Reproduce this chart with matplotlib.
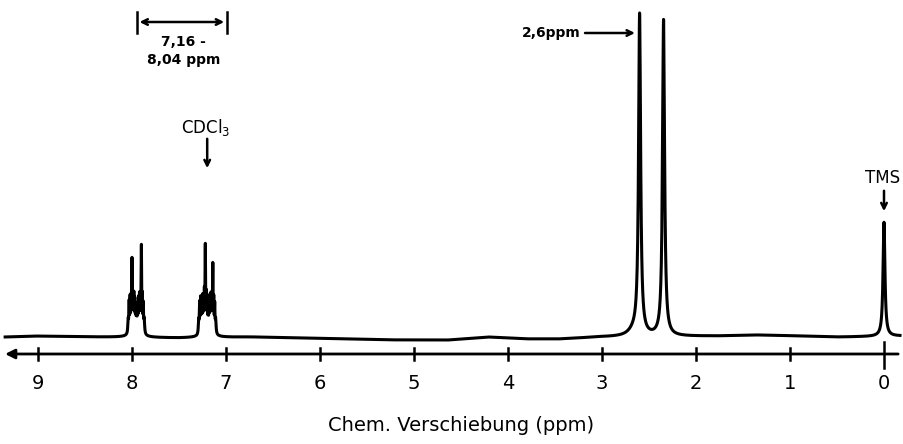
import matplotlib.pyplot as plt
import numpy as np

# Baseline, ppm -> height above the axis line
base_ppm = [9.35, 8.98, 8.34, 7.49, 6.74, 6.21, 5.68, 5.15, 4.62, 4.19, 3.77, 3.45, 3.02,
            1.74, 1.32, 0.89, 0.47, -0.17]
base_val = [17, 18, 17, 16, 17, 16, 15, 14, 14, 17, 15, 15, 17,
            18, 19, 18, 17, 18]

# Peaks: position (ppm), height above baseline, half width (ppm)
peak_ppm = [7.955, 8.04, 8.03, 8.02, 8.01, 8.00, 7.99, 7.98, 7.97, 7.96, 7.95, 7.94,
            7.93, 7.92, 7.91, 7.90, 7.89, 7.88, 7.87,
            7.195, 7.29, 7.28, 7.27, 7.26, 7.25, 7.24, 7.23, 7.22, 7.21, 7.20, 7.19,
            7.18, 7.17, 7.16, 7.15, 7.14, 7.13, 7.12, 7.11,
            2.66, 2.60, 2.345, 0.0]
peak_h = [8, 14, 28, 32, 30, 68, 30, 32, 26, 20, 16, 20,
          28, 32, 30, 82, 32, 26, 14,
          8, 14, 28, 32, 30, 32, 30, 34, 80, 30, 22, 16,
          22, 30, 32, 30, 64, 30, 26, 14,
          5, 320, 316, 114]
peak_w = [0.05, 0.005, 0.003, 0.003, 0.003, 0.003, 0.003, 0.003, 0.003, 0.003, 0.003, 0.003,
          0.003, 0.003, 0.003, 0.003, 0.003, 0.003, 0.005,
          0.05, 0.005, 0.003, 0.003, 0.003, 0.003, 0.003, 0.003, 0.003, 0.003, 0.003, 0.003,
          0.003, 0.003, 0.003, 0.003, 0.003, 0.003, 0.003, 0.005,
          0.07, 0.013, 0.013, 0.012]

tick_vals = [9, 8, 7, 6, 5, 4, 3, 2, 1, 0]

ppm = np.arange(-0.17, 9.35, 0.0005)
spec = np.interp(ppm, base_ppm[::-1], base_val[::-1])
for p, h, w in zip(peak_ppm, peak_h, peak_w):
    spec += h / (1 + ((ppm - p) / w) ** 2)

fig = plt.figure(figsize=(9.04, 4.44), dpi=100)
ax = fig.add_axes([0, 0, 1, 1])
ax.set_xlim(884 / 94, -20 / 94)
ax.set_ylim(-90, 354)
ax.axis("off")

ax.plot(ppm, spec, color="black", lw=2.2, solid_joinstyle="round")

# axis line with arrow to the left
ax.annotate("", xy=(9.38, 0), xytext=(-0.18, 0),
            arrowprops=dict(arrowstyle="-|>", color="black", lw=2, mutation_scale=14))
for t in tick_vals:
    if t == 0:
        ax.plot([t, t], [-14, 12], color="black", lw=1.8)
    else:
        ax.plot([t, t], [-6, 6], color="black", lw=1.8)
    ax.text(t, -29, str(t), ha="center", va="center", fontsize=14)

ax.text(4.5, -71, "Chem. Verschiebung (ppm)", ha="center", va="center", fontsize=14)

# 2,6 ppm label
ax.annotate("", xy=(2.62, 321), xytext=(3.21, 321),
            arrowprops=dict(arrowstyle="->", color="black", lw=1.8))
ax.text(3.23, 321, "2,6ppm", ha="right", va="center", fontsize=10, fontweight="bold")

# TMS
ax.text(0.02, 176, "TMS", ha="center", va="center", fontsize=12)
ax.annotate("", xy=(0.0, 140), xytext=(0.0, 166),
            arrowprops=dict(arrowstyle="->", color="black", lw=1.8))

# CDCl3
ax.text(7.22, 226, "CDCl$_3$", ha="center", va="center", fontsize=12)
ax.annotate("", xy=(7.20, 183), xytext=(7.20, 218),
            arrowprops=dict(arrowstyle="->", color="black", lw=1.8))

# range 7,16 - 8,04 ppm
ax.annotate("", xy=(7.95, 332), xytext=(6.99, 332),
            arrowprops=dict(arrowstyle="<->", color="black", lw=1.8))
ax.plot([7.95, 7.95], [321, 342], color="black", lw=1.8)
ax.plot([6.99, 6.99], [321, 342], color="black", lw=1.8)
ax.text(7.45, 312, "7,16 -", ha="center", va="center", fontsize=10, fontweight="bold")
ax.text(7.45, 294, "8,04 ppm", ha="center", va="center", fontsize=10, fontweight="bold")

fig.savefig("out.png", dpi=100)
